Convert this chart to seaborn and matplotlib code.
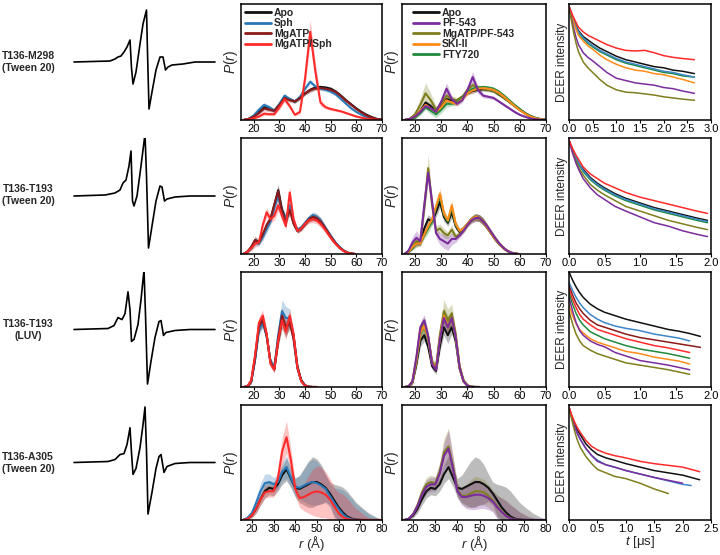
import numpy as np
import matplotlib
matplotlib.use("Agg")
import matplotlib.pyplot as plt
import seaborn as sns

sns.set_theme(style="ticks")
plt.rcParams["font.family"] = ["Liberation Sans", "DejaVu Sans"]
plt.rcParams["mathtext.fontset"] = "custom"
plt.rcParams["mathtext.it"] = "Liberation Sans:italic"
plt.rcParams["mathtext.rm"] = "Liberation Sans"

# ---------------- colours ----------------
C_APO, C_SPH, C_MG, C_MGSPH = "#111111", "#2a78b8", "#8b1a1a", "#ff2a2a"
C_PF, C_MGPF, C_SKI, C_FTY = "#7b2c9c", "#7e7e1e", "#ff8c1a", "#1f8a3c"

# ---------------- row labels ----------------
row_labels = ["T136-M298\n(Tween 20)", "T136-T193\n(Tween 20)",
              "T136-T193\n(LUV)", "T136-A305\n(Tween 20)"]

# ---------------- EPR spectra (field, derivative signal) ----------------
epr1_field = [74, 110, 115, 118, 121, 124, 127, 130, 131.5, 133, 136, 140, 143, 146.5, 147.5, 149, 152, 156, 160, 163, 165.5, 168, 172, 183, 195, 215]
epr1_sig = [0, 1, 3, 5, 6, 10, 15, 22, -6, -22, -10, 18, 38, 52, 10, -47, -30, -8, 5, 5, -8, -5, -3, -2, 0, 0]
epr2_field = [74, 105, 115, 120, 123, 126, 129, 131, 132.5, 134, 137, 141, 145, 146.5, 148.5, 152, 156, 160, 162, 164.5, 167, 175, 190, 215]
epr2_sig = [0, 1, 3, 6, 13, 16, 30, 45, -5, -10, 0, 30, 62, 20, -52, -30, -5, 10, 9, -5, -3, -1, 0, 0]
epr3_field = [74, 108, 114, 118, 122, 125, 128, 130, 131.5, 134, 138, 141, 144, 145.5, 147.5, 151, 155, 159, 161, 163.5, 166, 175, 190, 215]
epr3_sig = [0, 1, 4, 12, 10, 16, 38, 20, -12, -10, 5, 30, 60, 15, -55, -32, -8, 8, 9, -6, -3, -1, 0, 0]
epr4_field = [74, 108, 115, 120, 124, 127, 130, 131.5, 133, 136, 140, 143, 145, 146.5, 148, 152, 156, 159, 161, 164, 167, 175, 190, 215]
epr4_sig = [0, 1, 3, 8, 9, 18, 35, 10, -12, -6, 15, 38, 56, 12, -52, -30, -6, 6, 8, -10, -4, -1, 0, 0]

# ---------------- P(r) data ----------------
r1 = [16, 18, 20, 22, 24, 26, 28, 30, 32, 34, 36, 38, 40, 42, 44, 46, 48, 50, 52, 54, 56, 58, 60, 62, 64, 66, 68, 70]
r1_apo = [0, 0.01, 0.03, 0.07, 0.11, 0.10, 0.08, 0.13, 0.20, 0.18, 0.16, 0.19, 0.23, 0.26, 0.28, 0.285, 0.28, 0.27, 0.245, 0.21, 0.17, 0.135, 0.10, 0.07, 0.045, 0.025, 0.01, 0.003]
r1_sph = [0, 0.01, 0.04, 0.09, 0.13, 0.11, 0.08, 0.14, 0.21, 0.18, 0.16, 0.20, 0.27, 0.33, 0.29, 0.27, 0.26, 0.245, 0.22, 0.18, 0.14, 0.10, 0.07, 0.045, 0.025, 0.012, 0.005, 0.001]
r1_mg = [0, 0.01, 0.03, 0.06, 0.10, 0.09, 0.08, 0.13, 0.19, 0.17, 0.16, 0.19, 0.23, 0.26, 0.27, 0.275, 0.27, 0.26, 0.24, 0.205, 0.165, 0.13, 0.095, 0.065, 0.04, 0.02, 0.008, 0.002]
r1_mgsph = [0, 0.005, 0.015, 0.03, 0.055, 0.05, 0.05, 0.11, 0.18, 0.12, 0.045, 0.07, 0.36, 0.76, 0.42, 0.15, 0.11, 0.095, 0.085, 0.075, 0.06, 0.045, 0.03, 0.02, 0.012, 0.006, 0.002, 0]
r1_err = [0, 0.005, 0.01, 0.015, 0.02, 0.02, 0.015, 0.015, 0.02, 0.015, 0.015, 0.015, 0.015, 0.02, 0.015, 0.015, 0.015, 0.015, 0.012, 0.012, 0.01, 0.01, 0.008, 0.006, 0.004, 0.003, 0.002, 0.001]
r1_mgsph_err = [0, 0.003, 0.006, 0.01, 0.015, 0.012, 0.012, 0.02, 0.025, 0.02, 0.012, 0.02, 0.06, 0.10, 0.08, 0.03, 0.015, 0.012, 0.01, 0.01, 0.008, 0.007, 0.006, 0.004, 0.003, 0.002, 0.001, 0]
r1_pf = [0, 0.01, 0.03, 0.07, 0.12, 0.10, 0.07, 0.16, 0.27, 0.18, 0.14, 0.17, 0.26, 0.37, 0.26, 0.21, 0.20, 0.19, 0.16, 0.13, 0.10, 0.07, 0.045, 0.028, 0.014, 0.006, 0.002, 0]
r1_pf_err = [0, 0.005, 0.01, 0.015, 0.02, 0.02, 0.015, 0.03, 0.05, 0.03, 0.02, 0.02, 0.03, 0.05, 0.03, 0.02, 0.015, 0.015, 0.012, 0.012, 0.01, 0.01, 0.008, 0.006, 0.004, 0.003, 0.002, 0.001]
r1_apo2 = [0, 0.01, 0.03, 0.08, 0.15, 0.12, 0.07, 0.12, 0.18, 0.17, 0.17, 0.20, 0.23, 0.25, 0.26, 0.265, 0.26, 0.25, 0.22, 0.19, 0.155, 0.12, 0.09, 0.06, 0.035, 0.018, 0.007, 0.002]
r1_mgpf = [0, 0.01, 0.05, 0.13, 0.23, 0.17, 0.09, 0.14, 0.21, 0.18, 0.17, 0.20, 0.26, 0.30, 0.28, 0.27, 0.26, 0.25, 0.225, 0.19, 0.155, 0.12, 0.085, 0.055, 0.03, 0.015, 0.006, 0.001]
r1_mgpf_err = [0, 0.01, 0.03, 0.06, 0.09, 0.06, 0.03, 0.03, 0.04, 0.03, 0.02, 0.02, 0.02, 0.03, 0.02, 0.02, 0.015, 0.015, 0.012, 0.012, 0.01, 0.01, 0.008, 0.006, 0.004, 0.003, 0.002, 0.001]
r1_ski = [0, 0.01, 0.03, 0.08, 0.13, 0.10, 0.07, 0.11, 0.17, 0.15, 0.14, 0.18, 0.23, 0.255, 0.27, 0.275, 0.27, 0.26, 0.235, 0.20, 0.16, 0.12, 0.085, 0.055, 0.03, 0.015, 0.005, 0.001]
r1_fty = [0, 0.005, 0.02, 0.06, 0.11, 0.08, 0.05, 0.09, 0.14, 0.14, 0.15, 0.19, 0.24, 0.27, 0.28, 0.285, 0.28, 0.27, 0.245, 0.21, 0.17, 0.13, 0.095, 0.06, 0.035, 0.017, 0.006, 0.001]
r1_fty_err = [0, 0.005, 0.01, 0.02, 0.02, 0.03, 0.03, 0.03, 0.03, 0.02, 0.02, 0.02, 0.015, 0.015, 0.015, 0.015, 0.015, 0.015, 0.012, 0.012, 0.01, 0.01, 0.008, 0.006, 0.004, 0.003, 0.002, 0.001]

r2 = [16, 17.5, 19, 20.5, 22, 23.5, 25, 26.5, 28, 29.5, 31, 32.5, 34, 35.5, 37, 38.5, 40, 41.5, 43, 44.5, 46, 47.5, 49, 50.5, 52, 53.5, 55, 56.5, 58, 59.5]
r2_apo = [0, 0.02, 0.06, 0.12, 0.10, 0.16, 0.24, 0.30, 0.42, 0.55, 0.38, 0.30, 0.40, 0.27, 0.20, 0.22, 0.26, 0.30, 0.32, 0.31, 0.28, 0.23, 0.18, 0.13, 0.09, 0.055, 0.03, 0.012, 0.004, 0]
r2_sph = [0, 0.02, 0.05, 0.10, 0.09, 0.15, 0.22, 0.28, 0.40, 0.50, 0.36, 0.30, 0.42, 0.28, 0.21, 0.23, 0.27, 0.31, 0.335, 0.32, 0.29, 0.24, 0.19, 0.14, 0.095, 0.06, 0.03, 0.013, 0.004, 0]
r2_mg = [0, 0.02, 0.06, 0.12, 0.10, 0.17, 0.25, 0.30, 0.43, 0.54, 0.36, 0.28, 0.38, 0.26, 0.20, 0.22, 0.26, 0.30, 0.32, 0.31, 0.28, 0.235, 0.185, 0.135, 0.09, 0.055, 0.03, 0.012, 0.004, 0]
r2_mgsph = [0, 0.02, 0.05, 0.09, 0.10, 0.25, 0.36, 0.30, 0.33, 0.42, 0.33, 0.24, 0.53, 0.30, 0.20, 0.22, 0.26, 0.29, 0.30, 0.29, 0.26, 0.22, 0.17, 0.125, 0.085, 0.05, 0.025, 0.01, 0.003, 0]
r2_err = [0, 0.01, 0.02, 0.03, 0.02, 0.03, 0.04, 0.03, 0.04, 0.05, 0.04, 0.03, 0.05, 0.03, 0.02, 0.02, 0.02, 0.025, 0.03, 0.03, 0.03, 0.025, 0.02, 0.02, 0.015, 0.01, 0.008, 0.005, 0.002, 0]
r2_pf = [0, 0.03, 0.10, 0.14, 0.11, 0.42, 0.70, 0.45, 0.18, 0.13, 0.11, 0.09, 0.13, 0.13, 0.16, 0.20, 0.25, 0.29, 0.31, 0.31, 0.28, 0.24, 0.19, 0.14, 0.095, 0.06, 0.03, 0.013, 0.004, 0]
r2_pf_err = [0, 0.02, 0.05, 0.06, 0.04, 0.05, 0.05, 0.04, 0.04, 0.05, 0.06, 0.06, 0.05, 0.03, 0.02, 0.02, 0.02, 0.025, 0.03, 0.03, 0.03, 0.025, 0.02, 0.02, 0.015, 0.01, 0.008, 0.005, 0.002, 0]
r2_mgpf = [0, 0.02, 0.07, 0.11, 0.10, 0.40, 0.74, 0.42, 0.20, 0.22, 0.18, 0.16, 0.21, 0.15, 0.17, 0.20, 0.25, 0.29, 0.31, 0.31, 0.28, 0.24, 0.19, 0.14, 0.095, 0.06, 0.03, 0.013, 0.004, 0]
r2_mgpf_err = [0, 0.01, 0.03, 0.03, 0.03, 0.08, 0.12, 0.06, 0.04, 0.04, 0.04, 0.03, 0.04, 0.03, 0.02, 0.02, 0.02, 0.025, 0.03, 0.03, 0.03, 0.025, 0.02, 0.02, 0.015, 0.01, 0.008, 0.005, 0.002, 0]
r2_ski = [0, 0.02, 0.06, 0.09, 0.09, 0.17, 0.24, 0.30, 0.41, 0.52, 0.35, 0.29, 0.42, 0.26, 0.20, 0.22, 0.26, 0.30, 0.32, 0.31, 0.28, 0.23, 0.18, 0.13, 0.09, 0.055, 0.03, 0.012, 0.004, 0]
r2_apo2 = [0, 0.02, 0.06, 0.10, 0.10, 0.22, 0.30, 0.28, 0.36, 0.45, 0.32, 0.27, 0.36, 0.24, 0.19, 0.22, 0.26, 0.30, 0.32, 0.31, 0.28, 0.23, 0.18, 0.13, 0.09, 0.055, 0.03, 0.012, 0.004, 0]
r2_fty = [0, 0.02, 0.05, 0.09, 0.09, 0.16, 0.22, 0.28, 0.40, 0.50, 0.34, 0.28, 0.40, 0.25, 0.20, 0.22, 0.26, 0.30, 0.32, 0.31, 0.28, 0.23, 0.18, 0.13, 0.09, 0.055, 0.03, 0.012, 0.004, 0]

r3 = [16, 17.5, 19, 20.5, 22, 23.5, 25, 26.5, 28, 29.5, 31, 32.5, 34, 35.5, 37, 38.5, 40, 41.5, 43, 44.5]
r3_apo = [0, 0.005, 0.05, 0.25, 0.52, 0.58, 0.45, 0.22, 0.16, 0.40, 0.58, 0.50, 0.58, 0.45, 0.18, 0.06, 0.015, 0.003, 0, 0]
r3_sph = [0, 0.005, 0.05, 0.24, 0.50, 0.56, 0.44, 0.22, 0.17, 0.45, 0.66, 0.60, 0.60, 0.42, 0.16, 0.05, 0.012, 0.002, 0, 0]
r3_mg = [0, 0.005, 0.05, 0.26, 0.53, 0.58, 0.45, 0.21, 0.16, 0.42, 0.62, 0.52, 0.56, 0.42, 0.17, 0.05, 0.012, 0.002, 0, 0]
r3_mgsph = [0, 0.005, 0.06, 0.28, 0.56, 0.62, 0.46, 0.20, 0.15, 0.40, 0.58, 0.48, 0.62, 0.46, 0.17, 0.05, 0.01, 0.002, 0, 0]
r3_err = [0, 0.005, 0.02, 0.04, 0.05, 0.05, 0.04, 0.03, 0.03, 0.05, 0.07, 0.07, 0.06, 0.04, 0.03, 0.015, 0.005, 0.002, 0, 0]
r3_sph_err = [0, 0.005, 0.02, 0.04, 0.05, 0.05, 0.04, 0.03, 0.04, 0.07, 0.10, 0.10, 0.08, 0.05, 0.03, 0.015, 0.005, 0.002, 0, 0]
r3_apo2 = [0, 0.005, 0.04, 0.20, 0.40, 0.45, 0.35, 0.18, 0.14, 0.36, 0.52, 0.45, 0.52, 0.40, 0.16, 0.05, 0.012, 0.002, 0, 0]
r3_pf = [0, 0.005, 0.05, 0.26, 0.52, 0.58, 0.44, 0.20, 0.15, 0.42, 0.60, 0.52, 0.60, 0.44, 0.17, 0.05, 0.012, 0.002, 0, 0]
r3_mgpf = [0, 0.005, 0.05, 0.25, 0.50, 0.56, 0.44, 0.22, 0.17, 0.46, 0.66, 0.58, 0.64, 0.46, 0.18, 0.06, 0.015, 0.003, 0, 0]
r3_ski = [0, 0.005, 0.045, 0.23, 0.47, 0.53, 0.42, 0.21, 0.16, 0.43, 0.62, 0.54, 0.60, 0.44, 0.17, 0.05, 0.012, 0.002, 0, 0]
r3_fty = [0, 0.005, 0.045, 0.22, 0.46, 0.52, 0.41, 0.21, 0.16, 0.43, 0.62, 0.55, 0.60, 0.43, 0.17, 0.05, 0.012, 0.002, 0, 0]

r4 = [16, 18, 20, 22, 24, 26, 28, 30, 32, 34, 36, 38, 40, 42, 44, 46, 48, 50, 52, 54, 56, 58, 60, 62, 64, 66, 68, 70, 72, 74, 76, 78, 80]
r4_apo = [0, 0.01, 0.04, 0.10, 0.18, 0.25, 0.28, 0.27, 0.31, 0.39, 0.44, 0.36, 0.28, 0.27, 0.29, 0.31, 0.33, 0.33, 0.31, 0.28, 0.23, 0.17, 0.11, 0.065, 0.03, 0.012, 0.004, 0.001, 0, 0, 0, 0, 0]
r4_apo_err = [0, 0.005, 0.02, 0.04, 0.05, 0.06, 0.06, 0.06, 0.06, 0.08, 0.10, 0.08, 0.08, 0.12, 0.16, 0.20, 0.22, 0.20, 0.17, 0.12, 0.10, 0.14, 0.19, 0.22, 0.22, 0.19, 0.15, 0.12, 0.09, 0.06, 0.04, 0.02, 0.005]
r4_sph = [0, 0.02, 0.06, 0.15, 0.25, 0.32, 0.33, 0.31, 0.33, 0.42, 0.46, 0.37, 0.29, 0.28, 0.30, 0.32, 0.33, 0.32, 0.30, 0.27, 0.21, 0.15, 0.095, 0.05, 0.02, 0.007, 0.002, 0, 0, 0, 0, 0, 0]
r4_sph_err = [0, 0.01, 0.03, 0.05, 0.07, 0.08, 0.07, 0.06, 0.06, 0.08, 0.10, 0.08, 0.08, 0.10, 0.14, 0.18, 0.20, 0.19, 0.16, 0.12, 0.10, 0.13, 0.18, 0.21, 0.21, 0.18, 0.14, 0.11, 0.08, 0.05, 0.03, 0.015, 0.005]
r4_mgsph = [0, 0.01, 0.04, 0.10, 0.18, 0.24, 0.25, 0.25, 0.36, 0.60, 0.72, 0.52, 0.27, 0.19, 0.20, 0.22, 0.24, 0.25, 0.24, 0.22, 0.18, 0.12, 0.06, 0.025, 0.008, 0.002, 0, 0, 0, 0, 0, 0, 0]
r4_mgsph_err = [0, 0.005, 0.02, 0.04, 0.05, 0.05, 0.05, 0.05, 0.08, 0.12, 0.14, 0.10, 0.06, 0.08, 0.12, 0.16, 0.20, 0.22, 0.22, 0.20, 0.18, 0.16, 0.18, 0.20, 0.18, 0.14, 0.10, 0.07, 0.04, 0.02, 0.01, 0.005, 0]
r4_apo2 = [0, 0.01, 0.04, 0.10, 0.18, 0.25, 0.28, 0.27, 0.31, 0.40, 0.46, 0.37, 0.28, 0.27, 0.29, 0.31, 0.33, 0.33, 0.31, 0.28, 0.23, 0.17, 0.11, 0.065, 0.03, 0.012, 0.004, 0.001, 0, 0, 0, 0, 0]
r4_pf = [0, 0.01, 0.05, 0.12, 0.22, 0.29, 0.31, 0.31, 0.40, 0.56, 0.62, 0.45, 0.25, 0.20, 0.20, 0.21, 0.22, 0.22, 0.21, 0.19, 0.16, 0.11, 0.07, 0.035, 0.012, 0.004, 0.001, 0, 0, 0, 0, 0, 0]
r4_pf_err = [0, 0.005, 0.02, 0.04, 0.05, 0.06, 0.06, 0.06, 0.08, 0.12, 0.16, 0.10, 0.06, 0.07, 0.10, 0.12, 0.13, 0.12, 0.11, 0.10, 0.09, 0.10, 0.12, 0.13, 0.12, 0.10, 0.07, 0.05, 0.03, 0.02, 0.01, 0.005, 0]
r4_mgpf = [0, 0.01, 0.05, 0.13, 0.24, 0.31, 0.33, 0.32, 0.42, 0.59, 0.64, 0.47, 0.26, 0.21, 0.21, 0.23, 0.25, 0.25, 0.24, 0.21, 0.17, 0.12, 0.075, 0.04, 0.015, 0.005, 0.001, 0, 0, 0, 0, 0, 0]

# ---------------- DEER traces ----------------
t1 = [0, 0.05, 0.1, 0.15, 0.2, 0.3, 0.4, 0.5, 0.65, 0.8, 1.0, 1.2, 1.4, 1.6, 1.8, 2.0, 2.2, 2.4, 2.65]
d1_mgsph = [0.98, 0.93, 0.88, 0.84, 0.80, 0.76, 0.73, 0.71, 0.68, 0.65, 0.62, 0.60, 0.595, 0.60, 0.58, 0.555, 0.54, 0.53, 0.52]
d1_apo = [0.98, 0.92, 0.86, 0.81, 0.77, 0.72, 0.69, 0.66, 0.62, 0.59, 0.55, 0.52, 0.50, 0.48, 0.46, 0.45, 0.43, 0.42, 0.40]
d1_sph = [0.98, 0.91, 0.85, 0.80, 0.76, 0.71, 0.67, 0.64, 0.60, 0.57, 0.53, 0.50, 0.48, 0.46, 0.44, 0.42, 0.41, 0.39, 0.37]
d1_fty = [0.98, 0.91, 0.85, 0.80, 0.75, 0.70, 0.66, 0.63, 0.59, 0.56, 0.52, 0.49, 0.47, 0.45, 0.43, 0.41, 0.40, 0.38, 0.37]
d1_ski = [0.98, 0.90, 0.84, 0.78, 0.73, 0.68, 0.64, 0.61, 0.56, 0.52, 0.48, 0.45, 0.43, 0.42, 0.40, 0.39, 0.37, 0.35, 0.32]
d1_pf = [0.98, 0.88, 0.79, 0.71, 0.65, 0.58, 0.54, 0.51, 0.46, 0.41, 0.36, 0.34, 0.32, 0.31, 0.30, 0.28, 0.27, 0.25, 0.23]
d1_mgpf = [0.98, 0.86, 0.75, 0.66, 0.59, 0.50, 0.45, 0.41, 0.35, 0.30, 0.26, 0.24, 0.235, 0.225, 0.215, 0.20, 0.19, 0.18, 0.17]

t2 = [0, 0.05, 0.1, 0.15, 0.2, 0.3, 0.4, 0.5, 0.65, 0.8, 1.0, 1.2, 1.4, 1.6, 1.8, 1.95]
d2_mgsph = [0.98, 0.91, 0.85, 0.80, 0.75, 0.69, 0.65, 0.61, 0.57, 0.53, 0.49, 0.46, 0.43, 0.40, 0.37, 0.35]
d2_apo = [0.98, 0.90, 0.83, 0.77, 0.73, 0.66, 0.61, 0.57, 0.52, 0.48, 0.44, 0.40, 0.37, 0.34, 0.31, 0.29]
d2_sph = [0.98, 0.90, 0.83, 0.77, 0.72, 0.65, 0.60, 0.56, 0.51, 0.47, 0.43, 0.39, 0.36, 0.33, 0.30, 0.28]
d2_fty = [0.98, 0.89, 0.82, 0.76, 0.71, 0.64, 0.59, 0.55, 0.50, 0.46, 0.42, 0.38, 0.35, 0.32, 0.29, 0.27]
d2_mgpf = [0.98, 0.88, 0.80, 0.73, 0.68, 0.60, 0.55, 0.51, 0.46, 0.41, 0.37, 0.33, 0.29, 0.26, 0.23, 0.21]
d2_pf = [0.98, 0.87, 0.78, 0.71, 0.65, 0.57, 0.51, 0.47, 0.41, 0.37, 0.32, 0.27, 0.24, 0.20, 0.17, 0.15]

t3 = [0, 0.05, 0.1, 0.15, 0.2, 0.3, 0.4, 0.5, 0.65, 0.8, 1.0, 1.2, 1.4, 1.55, 1.7, 1.85]
d3_apo = [1.0, 0.93, 0.87, 0.82, 0.78, 0.72, 0.68, 0.65, 0.62, 0.59, 0.56, 0.53, 0.50, 0.485, 0.465, 0.44]
d3_sph = [0.91, 0.84, 0.78, 0.73, 0.69, 0.63, 0.59, 0.56, 0.53, 0.51, 0.49, 0.46, 0.44, 0.425, 0.40]
d3_mg = [0.88, 0.80, 0.73, 0.68, 0.64, 0.58, 0.54, 0.52, 0.49, 0.46, 0.43, 0.41, 0.39, 0.375, 0.36, 0.345]
d3_mgsph = [0.85, 0.76, 0.69, 0.63, 0.59, 0.54, 0.50, 0.48, 0.45, 0.42, 0.39, 0.36, 0.34, 0.32, 0.30]
d3_fty = [0.82, 0.72, 0.64, 0.58, 0.54, 0.48, 0.45, 0.42, 0.39, 0.36, 0.33, 0.31, 0.29, 0.27, 0.25]
d3_ski = [0.71, 0.62, 0.55, 0.50, 0.47, 0.42, 0.39, 0.37, 0.34, 0.31, 0.29, 0.26, 0.24, 0.225, 0.20]
d3_pf = [0.78, 0.66, 0.56, 0.49, 0.45, 0.40, 0.37, 0.35, 0.30, 0.27, 0.23, 0.21, 0.19, 0.17, 0.15]
d3_mgpf = [0.66, 0.55, 0.46, 0.40, 0.36, 0.32, 0.29, 0.27, 0.24, 0.21, 0.19, 0.17, 0.15, 0.13, 0.11]

t4 = [0, 0.05, 0.1, 0.15, 0.2, 0.3, 0.4, 0.5, 0.65, 0.8, 1.0, 1.25, 1.5, 1.75, 2.0, 2.15, 2.3]
d4_mgsph = [0.98, 0.91, 0.85, 0.80, 0.76, 0.69, 0.64, 0.61, 0.58, 0.56, 0.54, 0.51, 0.49, 0.475, 0.46, 0.44, 0.42]
d4_apo = [0.98, 0.90, 0.83, 0.78, 0.74, 0.66, 0.61, 0.57, 0.54, 0.52, 0.49, 0.46, 0.43, 0.41, 0.39, 0.37, 0.35]
d4_sph = [0.98, 0.89, 0.81, 0.75, 0.70, 0.62, 0.56, 0.52, 0.48, 0.46, 0.43, 0.40, 0.37, 0.34, 0.31, 0.30]
d4_pf = [0.98, 0.89, 0.81, 0.75, 0.70, 0.62, 0.56, 0.51, 0.48, 0.46, 0.43, 0.40, 0.37, 0.345, 0.32]
d4_mgpf = [0.98, 0.87, 0.77, 0.69, 0.63, 0.55, 0.49, 0.44, 0.41, 0.38, 0.36, 0.32, 0.27, 0.23]

# ---------------- layout (pixel boxes) ----------------
W, H = 720, 555
rows_px = [(4, 120), (138, 254), (272, 387), (405, 520)]
cols_px = [(241, 382), (402, 546), (569, 711)]
label_y = [62, 195, 330, 463]

fig = plt.figure(figsize=(W / 100, H / 100), dpi=100)


def px_axes(x0, x1, y0, y1):
    return fig.add_axes([x0 / W, 1 - y1 / H, (x1 - x0) / W, (y1 - y0) / H])


def style(ax):
    for s in ax.spines.values():
        s.set_visible(True)
        s.set_color("black")
        s.set_linewidth(1.1)
    ax.tick_params(axis="x", direction="out", length=2.0, width=0.8, pad=1.0,
                   labelsize=8, colors="black")
    ax.set_yticks([])
    ax.grid(False)


def pr_panel(ax, r, series, xmax, xticks, legend_x=None, xlabel=False):
    for name, vals, err, color in series:
        v = np.asarray(vals)
        e = np.asarray(err)
        ax.fill_between(r, np.clip(v - e, 0, None), v + e, color=color,
                        alpha=0.28, lw=0)
    for name, vals, err, color in series:
        sns.lineplot(x=r, y=vals, color=color, lw=1.5, ax=ax,
                     label=name if legend_x is not None else None)
    ax.set_xlim(15, xmax)
    ax.set_ylim(0, 1.0)
    ax.set_xticks(xticks)
    style(ax)
    ax.set_ylabel("$P$($r$)", fontsize=10, labelpad=0.5)
    if xlabel:
        ax.set_xlabel("$r$ (Å)", fontsize=9.5, labelpad=0)
    else:
        ax.set_xlabel("")
    if legend_x is not None:
        handles, labels = ax.get_legend_handles_labels()
        order = [labels.index(n) for n, _, _, _ in legend_order[legend_x]]
        ax.legend([handles[k] for k in order], [labels[k] for k in order],
                  loc="upper left", bbox_to_anchor=(legend_x, 1.0), frameon=False,
                  prop={"weight": "bold", "size": 7.5}, handlelength=2.5,
                  labelspacing=0.05, borderaxespad=0.15, handletextpad=0.3,
                  borderpad=0.2)
        for l in ax.get_legend().get_lines():
            l.set_linewidth(2.0)


def deer_panel(ax, t, traces, xmax, xticks, xlabel=False):
    for vals, color in traces:
        sns.lineplot(x=t[:len(vals)], y=vals, color=color, lw=1.1, ax=ax)
    ax.set_xlim(0, xmax)
    ax.set_ylim(0, 1.0)
    ax.set_xticks(xticks)
    ax.set_xticklabels([f"{v:.1f}" for v in xticks])
    style(ax)
    ax.set_ylabel("DEER intensity", fontsize=8.5, labelpad=0.5)
    if xlabel:
        ax.set_xlabel("$t$ [μs]", fontsize=9.5, labelpad=0)
    else:
        ax.set_xlabel("")


# ---------------- column 0: labels + spectra ----------------
epr = [(epr1_field, epr1_sig), (epr2_field, epr2_sig),
       (epr3_field, epr3_sig), (epr4_field, epr4_sig)]
for i, (y0, y1) in enumerate(rows_px):
    fig.text(28 / W, 1 - label_y[i] / H, row_labels[i], ha="center", va="center",
             fontsize=7.5, fontweight="bold", linespacing=1.3)
    ax = px_axes(70, 222, y0, y1)
    sns.lineplot(x=epr[i][0], y=epr[i][1], color="black", lw=1.2, ax=ax)
    ax.set_xlim(70, 222)
    ax.set_ylim(-58, 58)
    ax.axis("off")

# ---------------- P(r) panels ----------------
t_pr_a = [20, 30, 40, 50, 60, 70]
t_pr_b = [20, 30, 40, 50, 60, 70, 80]

# draw order (last is on top); legend order follows the reference
pr_col1 = [
    (r1, [("Apo", r1_apo, r1_err, C_APO), ("Sph", r1_sph, r1_err, C_SPH),
          ("MgATP", r1_mg, r1_err, C_MG), ("MgATP/Sph", r1_mgsph, r1_mgsph_err, C_MGSPH)], 70, t_pr_a),
    (r2, [("Apo", r2_apo, r2_err, C_APO), ("Sph", r2_sph, r2_err, C_SPH),
          ("MgATP", r2_mg, r2_err, C_MG), ("MgATP/Sph", r2_mgsph, r2_err, C_MGSPH)], 70, t_pr_a),
    (r3, [("Apo", r3_apo, r3_err, C_APO), ("Sph", r3_sph, r3_sph_err, C_SPH),
          ("MgATP", r3_mg, r3_err, C_MG), ("MgATP/Sph", r3_mgsph, r3_err, C_MGSPH)], 70, t_pr_a),
    (r4, [("Apo", r4_apo, r4_apo_err, C_APO), ("Sph", r4_sph, r4_sph_err, C_SPH),
          ("MgATP/Sph", r4_mgsph, r4_mgsph_err, C_MGSPH)], 80, t_pr_b),
]
pr_col2 = [
    (r1, [("Apo", r1_apo2, r1_err, C_APO), ("MgATP/PF-543", r1_mgpf, r1_mgpf_err, C_MGPF),
          ("FTY720", r1_fty, r1_fty_err, C_FTY), ("SKI-II", r1_ski, r1_err, C_SKI),
          ("PF-543", r1_pf, r1_pf_err, C_PF)], 70, t_pr_a),
    (r2, [("Apo", r2_apo2, r2_err, C_APO), ("MgATP/PF-543", r2_mgpf, r2_mgpf_err, C_MGPF),
          ("FTY720", r2_fty, r2_err, C_FTY), ("SKI-II", r2_ski, r2_err, C_SKI),
          ("PF-543", r2_pf, r2_pf_err, C_PF)], 70, t_pr_a),
    (r3, [("Apo", r3_apo2, r3_err, C_APO), ("MgATP/PF-543", r3_mgpf, r3_sph_err, C_MGPF),
          ("FTY720", r3_fty, r3_err, C_FTY), ("SKI-II", r3_ski, r3_err, C_SKI),
          ("PF-543", r3_pf, r3_err, C_PF)], 70, t_pr_a),
    (r4, [("Apo", r4_apo2, r4_apo_err, C_APO), ("MgATP/PF-543", r4_mgpf, r4_pf_err, C_MGPF),
          ("PF-543", r4_pf, r4_pf_err, C_PF)], 80, t_pr_b),
]
legend_order = {
    0.0: [("Apo", 0, 0, 0), ("Sph", 0, 0, 0), ("MgATP", 0, 0, 0), ("MgATP/Sph", 0, 0, 0)],
    0.05: [("Apo", 0, 0, 0), ("PF-543", 0, 0, 0), ("MgATP/PF-543", 0, 0, 0),
           ("SKI-II", 0, 0, 0), ("FTY720", 0, 0, 0)],
}

for i, (y0, y1) in enumerate(rows_px):
    r, ser, xmax, xt = pr_col1[i]
    ax = px_axes(cols_px[0][0], cols_px[0][1], y0, y1)
    pr_panel(ax, r, ser, xmax, xt, legend_x=(0.0 if i == 0 else None), xlabel=(i == 3))
    r, ser, xmax, xt = pr_col2[i]
    ax = px_axes(cols_px[1][0], cols_px[1][1], y0, y1)
    pr_panel(ax, r, ser, xmax, xt, legend_x=(0.05 if i == 0 else None), xlabel=(i == 3))

# ---------------- DEER panels ----------------
C_SPH_D = "#3d86c8"
deer = [
    (t1, [(d1_apo, C_APO), (d1_fty, C_FTY), (d1_sph, C_SPH_D), (d1_ski, C_SKI),
          (d1_pf, C_PF), (d1_mgpf, C_MGPF), (d1_mgsph, C_MGSPH)], 3.0,
     [0, 0.5, 1.0, 1.5, 2.0, 2.5, 3.0]),
    (t2, [(d2_apo, C_APO), (d2_fty, C_FTY), (d2_sph, C_SPH_D), (d2_mgpf, C_MGPF),
          (d2_pf, C_PF), (d2_mgsph, C_MGSPH)], 2.0, [0, 0.5, 1.0, 1.5, 2.0]),
    (t3, [(d3_apo, C_APO), (d3_sph, C_SPH_D), (d3_mg, C_MG), (d3_mgsph, C_MGSPH),
          (d3_fty, C_FTY), (d3_ski, C_SKI), (d3_pf, C_PF), (d3_mgpf, C_MGPF)], 2.0,
     [0, 0.5, 1.0, 1.5, 2.0]),
    (t4, [(d4_apo, C_APO), (d4_sph, C_SPH_D), (d4_pf, C_PF), (d4_mgpf, C_MGPF),
          (d4_mgsph, C_MGSPH)], 2.5, [0, 0.5, 1.0, 1.5, 2.0, 2.5]),
]
for i, (y0, y1) in enumerate(rows_px):
    t, tr, xmax, xt = deer[i]
    ax = px_axes(cols_px[2][0], cols_px[2][1], y0, y1)
    deer_panel(ax, t, tr, xmax, xt, xlabel=(i == 3))

fig.savefig("out.png", dpi=100)
